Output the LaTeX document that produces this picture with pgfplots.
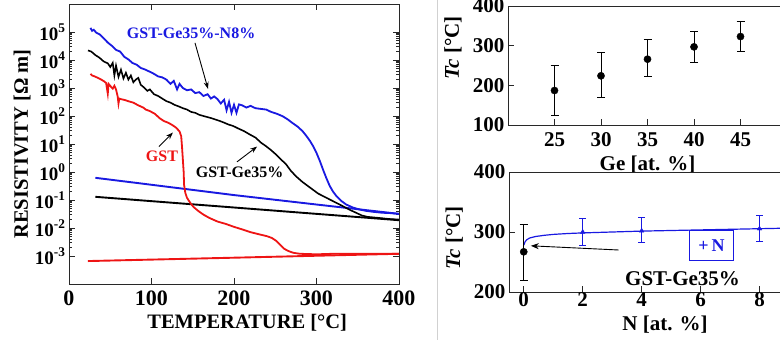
\documentclass[border=0pt]{standalone}
\usepackage{fontspec}
\setmainfont{Liberation Serif}
\usepackage{pgfplots}
\pgfplotsset{compat=1.18}
\usetikzlibrary{arrows.meta}
\definecolor{myblue}{RGB}{25,25,225}
\definecolor{myred}{RGB}{238,20,20}
\definecolor{axc}{RGB}{40,40,40}
\newcommand{\fa}{\bfseries\fontsize{19bp}{21bp}\selectfont}
\newcommand{\fx}{\bfseries\fontsize{22bp}{24bp}\selectfont}
\newcommand{\fl}{\bfseries\fontsize{20.5bp}{23bp}\selectfont}
\newcommand{\fb}{\bfseries\fontsize{21bp}{23bp}\selectfont}
\newcommand{\fc}{\bfseries\fontsize{16bp}{18bp}\selectfont}
\newcommand{\fd}{\bfseries\fontsize{18bp}{20bp}\selectfont}
\pgfplotsset{myax/.style={scale only axis, axis line style={line width=0.9bp, axc},
  tick style={line width=0.9bp, axc}, major tick length=6bp, tick align=inside,
  /pgf/number format/assume math mode=true, minor tick num=0,
  clip=true}}

\pgfplotstableread{
x v
26 1.4e5
28 1.1e5
30 1.2e5
33 9.5e4
37 8.3e4
42 6.0e4
47 4.2e4
52 3.2e4
57 2.3e4
62 2.0e4
67 1.3e4
72 1.05e4
77 7.8e3
82 6.8e3
87 5.2e3
92 4.6e3
98 3.8e3
103 3.2e3
108 2.6e3
113 2.4e3
118 2.0e3
123 1.4e3
127 1.8e3
131 8.9e2
134 1.4e3
138 1.0e3
143 8.3e2
148 8.9e2
153 6.6e2
158 7.1e2
163 5.2e2
168 6.0e2
172 4.2e2
176 5.0e2
180 4.0e2
184 2.8e2
188 3.8e2
191 1.6e2
194 3.2e2
197 1.3e2
200 2.5e2
203 1.3e2
206 2.6e2
210 2.4e2
215 2.0e2
220 2.3e2
226 1.9e2
232 1.8e2
239 1.7e2
245 1.4e2
252 1.2e2
259 9.8e1
265 7.6e1
271 5.6e1
277 4.2e1
283 2.9e1
288 1.9e1
292 1.3e1
296 8.3
300 4.8
304 2.5
308 1.2
312 0.60
316 0.32
320 0.20
324 0.14
330 9.3e-2
336 6.9e-2
344 5.4e-2
352 4.6e-2
360 4.1e-2
368 3.8e-2
380 3.5e-2
390 3.4e-2
400 3.2e-2
}\blueheat

\pgfplotstableread{
x v
32 0.62
100 0.35
200 0.15
300 6.9e-2
400 3.2e-2
}\bluecool

\pgfplotstableread{
x v
23 2.2e4
27 2.0e4
32 1.5e4
37 1.2e4
42 8.9e3
47 7.6e3
50 5.6e3
53 7.9e3
55 2.8e3
57 6.3e3
60 2.5e3
63 4.5e3
66 2.2e3
69 3.5e3
72 2.0e3
75 2.8e3
78 1.6e3
81 2.0e3
84 2.3e3
87 1.3e3
90 1.1e3
95 7.9e2
98 8.9e2
103 6.0e2
108 5.2e2
113 4.2e2
118 3.4e2
123 3.0e2
128 2.5e2
133 2.2e2
138 1.9e2
143 1.7e2
148 1.4e2
153 1.3e2
158 1.1e2
163 1.0e2
168 9.1e1
173 8.3e1
178 7.4e1
183 6.6e1
188 5.8e1
193 5.0e1
199 4.4e1
205 3.6e1
212 2.9e1
219 2.2e1
226 1.7e1
233 1.1e1
239 8.3
245 6.0
251 4.2
257 2.8
263 1.9
269 1.1
275 0.71
283 0.44
292 0.28
302 0.17
312 0.12
322 8.5e-2
332 6.0e-2
340 4.5e-2
348 3.5e-2
355 2.8e-2
362 2.5e-2
375 2.3e-2
388 2.1e-2
400 2.0e-2
}\blackheat

\pgfplotstableread{
x v
32 0.13
100 9.1e-2
200 5.4e-2
300 3.2e-2
400 1.9e-2
}\blackcool

\pgfplotstableread{
x v
26 3.2e3
28 2.8e3
31 2.6e3
35 2.3e3
39 2.0e3
43 1.7e3
45 1.5e3
47 6.3e2
48 1.4e3
51 1.1e3
53 9.5e2
55 1.2e3
57 8.9e2
59 5.0e2
60 2.8e2
61 4.2e2
63 4.0e2
68 3.7e2
73 3.3e2
78 3.0e2
84 2.4e2
90 2.0e2
93 1.7e2
98 1.5e2
104 1.2e2
110 8.3e1
115 6.6e1
120 5.8e1
125 4.8e1
130 3.8e1
134 2.8e1
136 1.9e1
137 7.9
138 2.8
139 1.0
139.5 0.35
141 0.18
143 0.12
147 7.9e-2
151 5.6e-2
157 4.0e-2
163 3.0e-2
170 2.3e-2
180 1.7e-2
190 1.4e-2
200 1.1e-2
210 8.9e-3
220 7.1e-3
230 6.0e-3
240 5.1e-3
246 4.4e-3
251 3.5e-3
256 2.5e-3
261 1.8e-3
266 1.5e-3
272 1.3e-3
280 1.2e-3
300 1.15e-3
320 1.2e-3
360 1.2e-3
400 1.2e-3
}\redheat

\pgfplotstableread{
x v
23 6.6e-4
200 8.7e-4
400 1.2e-3
}\redcool

\pgfplotstableread{
x y ep em
25 187 63 64
30 224 58 55
35 266 50 44
40 297 38 39
45 323 38 38
}\gedata

\pgfplotstableread{
x y ep em
2 300 23 22
4 302 23 20
8 305.5 22.5 20.5
}\ndata

\pgfplotstableread{
x y ep em
0 267 46 47
}\nzero

\pgfplotstableread{
x y
0 278
0.05 284
0.1 287
0.2 290
0.4 292.5
0.7 294.5
1 296
1.5 297.5
2 298.5
3 300
4 301.5
5 302.5
6 303.5
7 304.5
8 305.5
9 306.5
}\nfit

\begin{document}
\begin{tikzpicture}
\draw[black!18, line width=0.8bp] (437.5bp,0bp) -- (437.5bp,-340bp);

% ---------------- left panel
\begin{axis}[myax, at={(69bp,-284bp)}, anchor=south west,
  width=330bp, height=280bp,
  xmin=0, xmax=400, ymode=log, ymin=1e-4, ymax=1e6,
  xtick={0,100,200,300,400},
  ytick={1e-3,1e-2,1e-1,1,1e1,1e2,1e3,1e4,1e5},
  yticklabels={10\textsuperscript{-3},10\textsuperscript{-2},10\textsuperscript{-1},10\textsuperscript{0},10\textsuperscript{1},10\textsuperscript{2},10\textsuperscript{3},10\textsuperscript{4},10\textsuperscript{5}},
  yticklabel style={font=\fa},
  xticklabel style={font=\fx, yshift=-3bp},
  xlabel={TEMPERATURE [°C]}, ylabel={RESISTIVITY [Ω m]},
  label style={font=\fl},
  xlabel style={at={(axis description cs:0.54,-0.139)}, anchor=center},
  ylabel style={at={(axis description cs:-0.142,0.5)}, anchor=center},
]
\addplot[myblue, line width=1.9bp] table[x=x,y=v]{\bluecool};
\addplot[black, line width=1.9bp] table[x=x,y=v]{\blackcool};
\addplot[myred, line width=1.9bp] table[x=x,y=v]{\redcool};
\addplot[black, line width=1.6bp] table[x=x,y=v]{\blackheat};
\addplot[myblue, line width=1.8bp] table[x=x,y=v]{\blueheat};
\addplot[myred, line width=1.8bp] table[x=x,y=v]{\redheat};
\node[font=\fc, text=myblue] at (axis cs:148,9e4) {GST-Ge35\%-N8\%};
\draw[-{Stealth[length=7bp,width=5bp]}, line width=0.9bp] (axis cs:152.7,4.1e4) -- (axis cs:168.5,930);
\node[font=\fc, text=myred] at (axis cs:112.7,3.5) {GST};
\draw[-{Stealth[length=7bp,width=5bp]}, line width=0.9bp] (axis cs:109,8.1) -- (axis cs:126,25.7);
\node[font=\fc, text=black] at (axis cs:206.7,0.95) {GST-Ge35\%};
\draw[-{Stealth[length=7bp,width=5bp]}, line width=0.9bp] (axis cs:203.6,2.3) -- (axis cs:228,8.1);
\end{axis}

% ---------------- top right
\begin{axis}[myax, at={(508bp,-125bp)}, anchor=south west,
  width=279bp, height=119bp,
  xmin=20, xmax=50, ymin=100, ymax=400,
  xtick={25,30,35,40,45}, ytick={100,200,300,400},
  xtick pos=left, ytick pos=left,
  tick label style={font=\fb},
  xticklabel style={yshift=-4bp},
  xlabel={Ge [at. \%]}, ylabel={\textit{Tc} [°C]},
  label style={font=\fb},
  xlabel style={at={(axis description cs:0.5,-0.33)}, anchor=center},
  ylabel style={at={(axis description cs:-0.197,0.65)}, anchor=center},
  clip=false,
]
\addplot[black, only marks, mark=*, mark size=3.6bp,
  error bars/.cd, y dir=both, y explicit,
  error bar style={black, line width=0.9bp},
  error mark options={rotate=90, mark size=4bp, black, line width=0.9bp}]
  table[x=x, y=y, y error plus=ep, y error minus=em]{\gedata};
\end{axis}

% ---------------- bottom right
\begin{axis}[myax, at={(509bp,-292bp)}, anchor=south west,
  width=280bp, height=120bp,
  xmin=-0.5, xmax=9, ymin=200, ymax=400,
  xtick={0,2,4,6,8}, ytick={200,300,400},
  xtick pos=left, ytick pos=left,
  tick label style={font=\fb},
  xticklabel style={yshift=3bp},
  xlabel={N [at. \%]}, ylabel={\textit{Tc} [°C]},
  label style={font=\fb},
  xlabel style={at={(axis description cs:0.557,-0.275)}, anchor=center},
  ylabel style={at={(axis description cs:-0.196,0.454)}, anchor=center},
  clip=false,
]
\addplot[myblue, line width=1.2bp] table[x=x,y=y]{\nfit};
\addplot[myblue, only marks, mark=triangle*, mark size=2.6bp,
  error bars/.cd, y dir=both, y explicit,
  error bar style={myblue, line width=0.9bp},
  error mark options={rotate=90, mark size=3.5bp, myblue, line width=0.9bp}]
  table[x=x, y=y, y error plus=ep, y error minus=em]{\ndata};
\addplot[black, only marks, mark=*, mark size=3.6bp,
  error bars/.cd, y dir=both, y explicit,
  error bar style={black, line width=0.9bp},
  error mark options={rotate=90, mark size=4bp, black, line width=0.9bp}]
  table[x=x, y=y, y error plus=ep, y error minus=em]{\nzero};
\node[draw=myblue, line width=1bp, text=myblue, font=\fd, minimum width=44bp, minimum height=30bp, inner sep=0pt] at (axis cs:6.37,278) {+\,N};
\node[font=\fb] at (axis cs:5.39,223) {GST-Ge35\%};
\draw[-{Stealth[length=8bp,width=6bp]}, line width=0.9bp] (axis cs:3.22,270) -- (axis cs:0.24,277);
\end{axis}

\pgfresetboundingbox
\useasboundingbox (0bp,0bp) rectangle (780bp,-340bp);
\end{tikzpicture}
\end{document}
